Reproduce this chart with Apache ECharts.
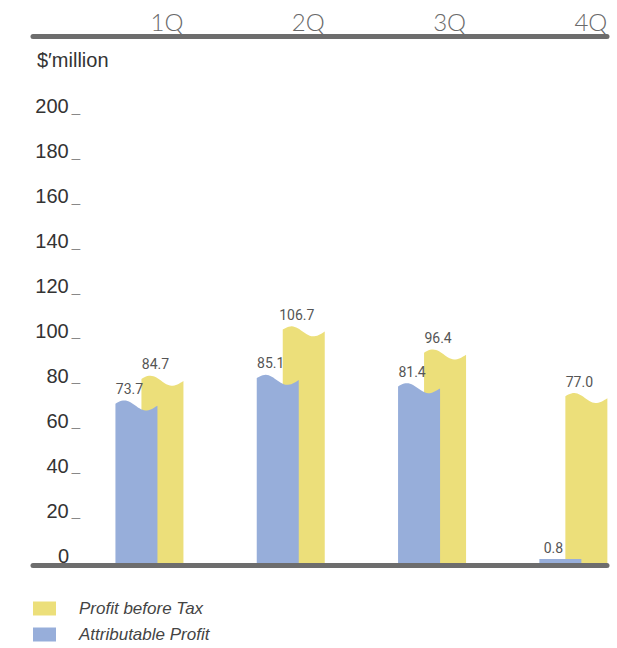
<!DOCTYPE html>
<html>
<head>
<meta charset="utf-8">
<script src="https://cdn.jsdelivr.net/npm/echarts@6/dist/echarts.min.js"></script>
<style>
html,body{margin:0;padding:0;background:#fff;}
#chart{width:617px;height:648px;}
</style>
</head>
<body>
<div id="chart"></div>
<script>
// ---- data ----
const quarters = ['1Q', '2Q', '3Q', '4Q'];
const profitBeforeTax = [84.7, 106.7, 96.4, 77.0];
const attributableProfit = [73.7, 85.1, 81.4, 0.8];
const yTicks = [0, 20, 40, 60, 80, 100, 120, 140, 160, 180, 200];
const unitLabel = '$\u2032million';
const seriesNames = ['Profit before Tax', 'Attributable Profit'];

const YELLOW = '#ECDF7A';
const BLUE = '#97AEDA';
const LINE = '#6d6d6d';
const BAR_W = 42;

function makeRender(offset, color, withQuarter) {
  return function (params, api) {
    const xi = api.value(0);
    const v = api.value(1);
    const base = api.coord([xi, 0]);
    const top = api.coord([xi, v]);
    const cx = base[0] + offset;
    const x0 = cx - BAR_W / 2;
    const yBase = base[1];
    let yPeak = top[1];
    const minH = 6.5;
    let wavy = true;
    if (yBase - yPeak < minH) { yPeak = yBase - minH; wavy = false; }
    const A = 4.5, phi = 0.19, N = 28;
    const pts = [[x0, yBase]];
    for (let i = 0; i <= N; i++) {
      const t = i / N;
      const py = wavy ? (yPeak + A - A * Math.sin(2 * Math.PI * t + phi) + t * 2) : yPeak;
      pts.push([x0 + t * BAR_W, py]);
    }
    pts.push([x0 + BAR_W, yBase]);
    const children = [
      { type: 'polygon', shape: { points: pts }, style: { fill: color } },
      { type: 'text', style: {
          text: v.toFixed(1), x: cx - 7, y: yPeak - 4,
          align: 'center', verticalAlign: 'bottom',
          fontSize: 14, fontFamily: 'Roboto, "Liberation Sans", sans-serif', fill: '#555'
        } }
    ];
    if (withQuarter) {
      children.push({ type: 'text', style: {
          text: quarters[xi], x: x0 + BAR_W, y: params.coordSys.y - 3,
          align: 'right', verticalAlign: 'bottom',
          fontSize: 24, fontWeight: 300, fontFamily: 'Lato, "Open Sans", sans-serif', fill: '#6a6a6a'
        } });
    }
    return { type: 'group', children: children };
  };
}

const chart = echarts.init(document.getElementById('chart'), null, { renderer: 'svg' });
const axisLineX = { show: true, onZero: false, lineStyle: { color: LINE, width: 5 } };
chart.setOption({
  animation: false,
  title: {
    text: unitLabel, left: 32, top: 45,
    textStyle: { fontSize: 20, fontWeight: 'normal', color: '#333', fontFamily: '"Liberation Sans", Arial, sans-serif' }
  },
  legend: {
    orient: 'vertical', left: 33, top: 600, height: 70, padding: 0,
    itemWidth: 23, itemHeight: 14, itemGap: 9,
    data: [{ name: seriesNames[0], icon: 'rect' }, { name: seriesNames[1], icon: 'rect' }],
    textStyle: { fontSize: 17, fontStyle: 'italic', color: '#444', padding: [0, 0, 0, 18],
      fontFamily: '"Liberation Sans", Arial, sans-serif' }
  },
  grid: { left: 33, right: 10, top: 36.5, bottom: 82.5, containLabel: false },
  xAxis: [
    { type: 'value', min: -0.824, max: 3.238, position: 'bottom', z: 5,
      axisLine: axisLineX, axisTick: { show: false }, axisLabel: { show: false }, splitLine: { show: false } },
    { type: 'value', min: -0.824, max: 3.238, position: 'top', z: 5,
      axisLine: axisLineX, axisTick: { show: false }, axisLabel: { show: false }, splitLine: { show: false } }
  ],
  yAxis: {
    type: 'value', min: 0, max: 235.6, offset: -47,
    axisLine: { show: false },
    axisTick: { show: false },
    axisLabel: {
      customValues: yTicks, margin: 0, verticalAlign: 'bottom', lineHeight: 20,
      formatter: function (val) { return val === 0 ? '{n|0}{s|}' : '{n|' + val + '}{u|_}'; },
      rich: {
        n: { fontSize: 20, color: '#333', fontFamily: '"Liberation Sans", Arial, sans-serif', lineHeight: 20 },
        u: { fontSize: 15, color: '#888', fontFamily: '"Liberation Sans", Arial, sans-serif', padding: [0, 0, 0, 3], lineHeight: 20 },
        s: { width: 11 }
      }
    },
    splitLine: { show: false }
  },
  series: [
    { name: seriesNames[0], type: 'custom', itemStyle: { color: YELLOW },
      renderItem: makeRender(13, YELLOW, true),
      encode: { x: 0, y: 1 },
      data: profitBeforeTax.map((v, i) => [i, v]) },
    { name: seriesNames[1], type: 'custom', itemStyle: { color: BLUE },
      renderItem: makeRender(-13, BLUE, false),
      encode: { x: 0, y: 1 },
      data: attributableProfit.map((v, i) => [i, v]) }
  ]
});
</script>
</body>
</html>
